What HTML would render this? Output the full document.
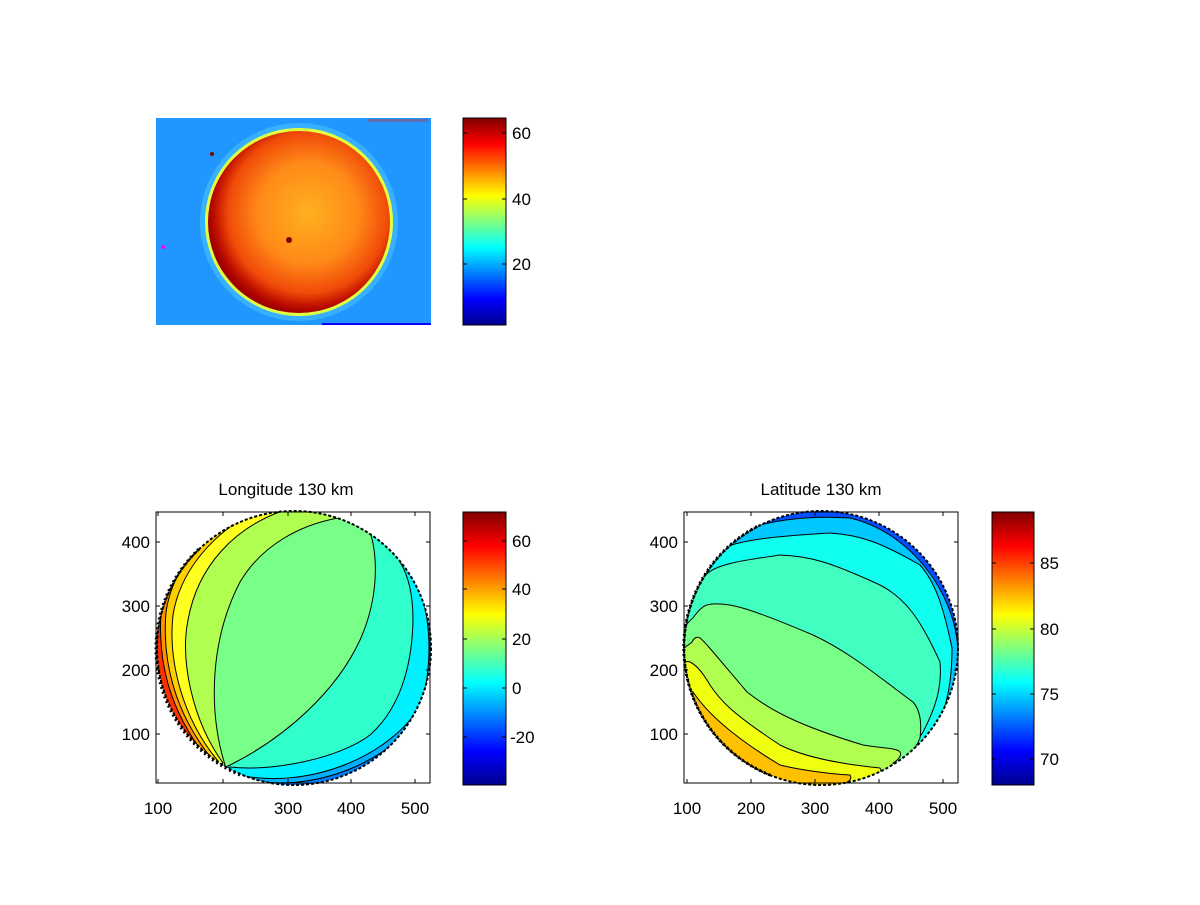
<!DOCTYPE html>
<html><head><meta charset="utf-8"><style>
html,body{margin:0;padding:0;background:#fff;}
svg text{font-family:"Liberation Sans",sans-serif;font-size:17px;fill:#000;}
</style></head><body>
<svg width="1200" height="900" viewBox="0 0 1200 900" xmlns="http://www.w3.org/2000/svg">
<defs>
<linearGradient id="jet" x1="0" y1="1" x2="0" y2="0">
<stop offset="0" stop-color="#00008f"/><stop offset="0.125" stop-color="#0000ff"/>
<stop offset="0.375" stop-color="#00ffff"/><stop offset="0.625" stop-color="#ffff00"/>
<stop offset="0.875" stop-color="#ff0000"/><stop offset="1" stop-color="#800000"/>
</linearGradient>
<radialGradient id="sun" cx="0.55" cy="0.45" r="0.55">
<stop offset="0" stop-color="#ffb020"/><stop offset="0.5" stop-color="#ff8a18"/>
<stop offset="0.8" stop-color="#f04a08"/><stop offset="0.93" stop-color="#c01000"/><stop offset="1" stop-color="#a00000"/>
</radialGradient>
<clipPath id="c1"><circle cx="294" cy="648" r="137"/></clipPath>
<clipPath id="c2"><circle cx="821" cy="648" r="137"/></clipPath>
</defs>

<!-- top image -->
<rect x="156" y="118" width="275" height="207" fill="#2096ff"/>
<ellipse cx="299" cy="222" rx="99" ry="99" fill="#50c8ff" opacity="0.5"/>
<ellipse cx="299" cy="222" rx="94" ry="94" fill="#e0ff40"/>
<ellipse cx="299" cy="222" rx="91" ry="91" fill="url(#sun)"/>
<rect x="322" y="323" width="109" height="2" fill="#0000ff"/>
<rect x="368" y="119" width="60" height="3" fill="#c03030" opacity="0.4"/>
<circle cx="212" cy="154" r="2" fill="#800000"/>
<circle cx="289" cy="240" r="3" fill="#800000"/>
<circle cx="163" cy="247" r="2" fill="#ff00ff"/>
<rect x="463" y="118" width="43" height="207" fill="url(#jet)" stroke="#000"/>
<g stroke="#000"><line x1="463" y1="133" x2="467" y2="133"/><line x1="502" y1="133" x2="506" y2="133"/>
<line x1="463" y1="199" x2="467" y2="199"/><line x1="502" y1="199" x2="506" y2="199"/>
<line x1="463" y1="264" x2="467" y2="264"/><line x1="502" y1="264" x2="506" y2="264"/></g>
<text x="512" y="139">60</text><text x="512" y="205">40</text><text x="512" y="270">20</text>

<!-- bottom left -->
<text x="286" y="495" text-anchor="middle">Longitude 130 km</text>
<g clip-path="url(#c1)" stroke="#000" stroke-width="1">
<rect x="150" y="505" width="290" height="290" fill="#0080ff" stroke="none"/>
<path d="M245,779 C315,795 395,760 425,708 C437,668 436,615 420,580 L420,500 L150,500 L150,800 Z" fill="#00b0ff"/>
<path d="M238,775 C310,790 390,756 421,705 C433,665 432,612 414,575 L414,500 L150,500 L150,800 Z" fill="#00f0ff"/>
<path d="M230,767 C273,772 340,758 370,735 C398,710 412,670 413,620 C413,595 408,575 400,562 L400,500 L150,500 L150,800 Z" fill="#30ffcc"/>
<path d="M228,766 C287,737 337,690 360,640 C378,600 378,560 371,535 L371,500 L150,500 L150,800 Z" fill="#78ff88"/>
<path d="M225,765 C208,710 210,640 240,582 C262,545 300,525 338,518 L338,500 L150,500 L150,800 Z" fill="#b0ff50"/>
<path d="M223,763 C192,720 180,660 188,620 C198,565 235,528 282,511 L282,500 L150,500 L150,800 Z" fill="#ffff20"/>
<path d="M218,761 C182,718 168,660 173,615 C180,572 210,538 245,517 L245,500 L150,500 L150,800 Z" fill="#ffd000"/>
<path d="M212,759 C174,712 162,660 166,612 C172,572 196,545 222,525 L150,500 L150,800 Z" fill="#ff9000"/>
<path d="M206,757 C168,708 158,660 161,612 C166,575 186,550 208,532 L150,500 L150,800 Z" fill="#ff3000"/>
</g>
<circle cx="294" cy="648" r="137" fill="none" stroke="#000" stroke-width="2" stroke-dasharray="3 2"/>
<path d="M240,775 A137,137 0 0 1 200,548" fill="none" stroke="#000" stroke-width="3" stroke-dasharray="2 3"/>
<rect x="156" y="512" width="274" height="271" fill="none" stroke="#000"/>
<g stroke="#000">
<line x1="158" y1="783" x2="158" y2="779"/><line x1="223" y1="783" x2="223" y2="779"/><line x1="288" y1="783" x2="288" y2="779"/><line x1="351" y1="783" x2="351" y2="779"/><line x1="415" y1="783" x2="415" y2="779"/>
<line x1="158" y1="512" x2="158" y2="516"/><line x1="223" y1="512" x2="223" y2="516"/><line x1="288" y1="512" x2="288" y2="516"/><line x1="351" y1="512" x2="351" y2="516"/><line x1="415" y1="512" x2="415" y2="516"/>
<line x1="156" y1="542" x2="160" y2="542"/><line x1="156" y1="606" x2="160" y2="606"/><line x1="156" y1="670" x2="160" y2="670"/><line x1="156" y1="734" x2="160" y2="734"/>
<line x1="430" y1="542" x2="426" y2="542"/><line x1="430" y1="606" x2="426" y2="606"/><line x1="430" y1="670" x2="426" y2="670"/><line x1="430" y1="734" x2="426" y2="734"/>
</g>
<text x="158" y="814" text-anchor="middle">100</text><text x="223" y="814" text-anchor="middle">200</text><text x="288" y="814" text-anchor="middle">300</text><text x="351" y="814" text-anchor="middle">400</text><text x="415" y="814" text-anchor="middle">500</text>
<text x="150" y="548" text-anchor="end">400</text><text x="150" y="612" text-anchor="end">300</text><text x="150" y="676" text-anchor="end">200</text><text x="150" y="740" text-anchor="end">100</text>
<rect x="463" y="512" width="43" height="273" fill="url(#jet)" stroke="#000"/>
<g stroke="#000">
<line x1="463" y1="541" x2="467" y2="541"/><line x1="502" y1="541" x2="506" y2="541"/>
<line x1="463" y1="589" x2="467" y2="589"/><line x1="502" y1="589" x2="506" y2="589"/>
<line x1="463" y1="639" x2="467" y2="639"/><line x1="502" y1="639" x2="506" y2="639"/>
<line x1="463" y1="688" x2="467" y2="688"/><line x1="502" y1="688" x2="506" y2="688"/>
<line x1="463" y1="737" x2="467" y2="737"/><line x1="502" y1="737" x2="506" y2="737"/></g>
<text x="512" y="547">60</text><text x="512" y="595">40</text><text x="512" y="645">20</text><text x="512" y="694">0</text><text x="510" y="743">-20</text>

<!-- bottom right -->
<text x="821" y="495" text-anchor="middle">Latitude 130 km</text>
<g clip-path="url(#c2)" stroke="#000" stroke-width="1">
<rect x="680" y="505" width="290" height="290" fill="#0050ff" stroke="none"/>
<path d="M680,570 C720,525 790,514 850,518 C910,532 955,592 958,650 C960,700 950,738 930,760 L980,800 L680,800 Z" fill="#00c8ff"/>
<path d="M680,580 C700,560 715,550 723,548 C740,541 763,537 830,533 C860,535 880,542 920,565 C935,582 943,605 952,648 C952,670 950,692 943,712 L980,800 L680,800 Z" fill="#10ffef"/>
<path d="M680,600 C690,585 700,577 708,573 C720,563 747,560 780,555 C810,556 830,562 880,585 C905,598 920,618 940,662 C942,685 937,705 923,732 C918,740 913,745 913,745 L980,800 L680,800 Z" fill="#40ffc0"/>
<path d="M680,632 C686,625 690,620 693,618 C700,608 705,604 713,604 C730,603 747,607 813,635 C850,652 880,678 913,702 C920,710 922,722 920,738 C917,746 912,752 910,753 L980,800 L680,800 Z" fill="#78ff88"/>
<path d="M680,652 C686,646 690,644 692,642 C694,638 697,636 700,638 C705,642 713,652 747,692 C770,710 797,725 863,745 C880,748 898,748 900,752 C902,756 898,760 893,763 L980,800 L680,800 Z" fill="#b0ff50"/>
<path d="M680,664 C684,662 688,661 690,662 C694,664 700,668 710,685 C720,700 730,712 780,745 C800,755 830,763 880,768 C882,771 880,774 877,775 L980,800 L680,800 Z" fill="#f0ff10"/>
<path d="M680,690 C688,690 690,690 693,692 C705,710 730,735 780,765 C800,770 830,774 850,775 C852,778 850,781 847,782 L980,800 L680,800 Z" fill="#ffc000"/>
<path d="M700,718 C715,740 745,765 780,780 C800,786 815,788 825,790 L680,800 Z" fill="#ff7000" stroke="none"/>
</g>
<circle cx="821" cy="648" r="137" fill="none" stroke="#000" stroke-width="2" stroke-dasharray="3 2"/>
<path d="M770,775 A137,137 0 0 1 760,525" fill="none" stroke="#000" stroke-width="3" stroke-dasharray="2 3"/>
<rect x="684" y="512" width="274" height="271" fill="none" stroke="#000"/>
<g stroke="#000">
<line x1="687" y1="783" x2="687" y2="779"/><line x1="751" y1="783" x2="751" y2="779"/><line x1="815" y1="783" x2="815" y2="779"/><line x1="879" y1="783" x2="879" y2="779"/><line x1="943" y1="783" x2="943" y2="779"/>
<line x1="687" y1="512" x2="687" y2="516"/><line x1="751" y1="512" x2="751" y2="516"/><line x1="815" y1="512" x2="815" y2="516"/><line x1="879" y1="512" x2="879" y2="516"/><line x1="943" y1="512" x2="943" y2="516"/>
<line x1="684" y1="542" x2="688" y2="542"/><line x1="684" y1="606" x2="688" y2="606"/><line x1="684" y1="670" x2="688" y2="670"/><line x1="684" y1="734" x2="688" y2="734"/>
<line x1="958" y1="542" x2="954" y2="542"/><line x1="958" y1="606" x2="954" y2="606"/><line x1="958" y1="670" x2="954" y2="670"/><line x1="958" y1="734" x2="954" y2="734"/>
</g>
<text x="687" y="814" text-anchor="middle">100</text><text x="751" y="814" text-anchor="middle">200</text><text x="815" y="814" text-anchor="middle">300</text><text x="879" y="814" text-anchor="middle">400</text><text x="943" y="814" text-anchor="middle">500</text>
<text x="678" y="548" text-anchor="end">400</text><text x="678" y="612" text-anchor="end">300</text><text x="678" y="676" text-anchor="end">200</text><text x="678" y="740" text-anchor="end">100</text>
<rect x="992" y="512" width="42" height="273" fill="url(#jet)" stroke="#000"/>
<g stroke="#000">
<line x1="992" y1="563" x2="996" y2="563"/><line x1="1030" y1="563" x2="1034" y2="563"/>
<line x1="992" y1="629" x2="996" y2="629"/><line x1="1030" y1="629" x2="1034" y2="629"/>
<line x1="992" y1="694" x2="996" y2="694"/><line x1="1030" y1="694" x2="1034" y2="694"/>
<line x1="992" y1="759" x2="996" y2="759"/><line x1="1030" y1="759" x2="1034" y2="759"/></g>
<text x="1040" y="569">85</text><text x="1040" y="635">80</text><text x="1040" y="700">75</text><text x="1040" y="765">70</text>
</svg>
</body></html>
